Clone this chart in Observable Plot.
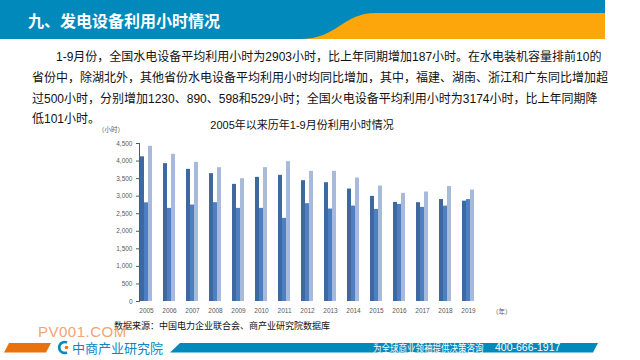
<!DOCTYPE html>
<html>
<head>
<meta charset="utf-8">
<script src="https://cdn.jsdelivr.net/npm/d3@7"></script>
<script src="https://cdn.jsdelivr.net/npm/@observablehq/plot@0.6"></script>
<style>
  html, body { margin: 0; padding: 0; background: #fff; }
  #slide { position: relative; width: 640px; height: 360px; overflow: hidden; background: #fff;
    font-family: "Liberation Sans", "Noto Sans CJK SC", sans-serif; }
  .abs { position: absolute; white-space: nowrap; }
  #para { position: absolute; left: 32px; top: 47px; width: 545px; font-size: 12px; color: #111;
    font-family: "Liberation Sans", "Noto Sans CJK SC", sans-serif; }
  #para div { height: 20.8px; line-height: 20.8px; text-align: justify; text-align-last: justify; white-space: nowrap; }
  #para div.last { text-align-last: left; }
  #chart { position: absolute; left: 0; top: 0; }
</style>
</head>
<body>
<div id="slide">
  <svg class="abs" style="left:0;top:0" width="640" height="360">
    <rect x="0" y="0" width="605" height="39" fill="#0289BC"></rect>
    <path d="M300,39 C338,39 342,13 376,13 L605,13 L605,39 Z" fill="#FDA60B"></path>
    <polygon points="9,343 51,343 46,352.5 4,352.5" fill="#E8720C"></polygon>
    <polygon points="180,343 598,343 593,352.5 170,352.5" fill="#0289BC"></polygon>
    <path d="M67,342.5 A5.5,5.5 0 1 0 67,352.5" fill="none" stroke="#0A87C0" stroke-width="2.6"></path>
    <circle cx="66.5" cy="347.5" r="1.8" fill="#E8720C"></circle>
  </svg>
  <div class="abs" style="left:28px;top:9px;font-size:16px;font-weight:bold;color:#fff;font-family:'Noto Sans CJK SC',sans-serif;line-height:22px">九、发电设备利用小时情况</div>
  <div id="para">
    <div style="padding-left:24px">1-9月份，全国水电设备平均利用小时为2903小时，比上年同期增加187小时。在水电装机容量排前10的</div>
    <div>省份中，除湖北外，其他省份水电设备平均利用小时均同比增加，其中，福建、湖南、浙江和广东同比增加超</div>
    <div>过500小时，分别增加1230、890、598和529小时；全国火电设备平均利用小时为3174小时，比上年同期降</div>
    <div class="last">低101小时。</div>
  </div>
  <div id="chart"></div>
  <div class="abs" style="left:0;width:604px;top:117px;text-align:center;font-size:11px;color:#111;line-height:16px">2005年以来历年1-9月份利用小时情况</div>
  <div class="abs" style="left:98px;top:125px;font-size:6.5px;color:#595959;line-height:10px">（小时）</div>
  <div class="abs" style="left:492px;top:307px;font-size:6.5px;color:#595959;line-height:10px">（年）</div>
  <div class="abs" style="left:114px;top:320px;font-size:9px;color:#111;line-height:12px">数据来源：中国电力企业联合会、商产业研究院数据库</div>
  <div class="abs" style="left:38px;top:325px;font-size:15px;color:#F3A472;line-height:14px;letter-spacing:0.5px">PV001.COM</div>
  <div class="abs" style="left:72px;top:340px;font-size:13px;color:#0A87C0;line-height:15px;font-family:'Noto Sans CJK SC',sans-serif">中商产业研究院</div>
  <div class="abs" style="left:373px;top:341px;font-size:10px;color:#fff;line-height:13px;transform:scaleX(0.85);transform-origin:left center;font-family:'Noto Sans CJK SC',sans-serif">为全球商业领袖提供决策咨询</div>
  <div class="abs" style="left:495px;top:341px;font-size:10.5px;color:#fff;line-height:13px">400-666-1917</div>
</div>
<script>
const years = ["2005","2006","2007","2008","2009","2010","2011","2012","2013","2014","2015","2016","2017","2018","2019"];
const seriesNames = ["全国", "水电", "火电"];
const allHours     = [4120, 3926, 3764, 3641, 3336, 3536, 3593, 3441, 3384, 3203, 2994, 2823, 2814, 2904, 2858];
const hydroHours   = [2810, 2652, 2747, 2814, 2652, 2652, 2367, 2785, 2633, 2718, 2623, 2766, 2680, 2716, 2903];
const thermalHours = [4420, 4192, 3964, 3812, 3498, 3812, 3983, 3707, 3707, 3517, 3289, 3080, 3118, 3275, 3174];
const yTicks = [0, 500, 1000, 1500, 2000, 2500, 3000, 3500, 4000, 4500];
const seriesColors = ["#3F689E", "#4E7FC0", "#A8BADB"];

const data = years.flatMap((y, i) => [
  {year: y, series: seriesNames[0], value: allHours[i]},
  {year: y, series: seriesNames[1], value: hydroHours[i]},
  {year: y, series: seriesNames[2], value: thermalHours[i]}
]);

const chart = Plot.plot({
  width: 640,
  height: 360,
  marginLeft: 129,
  marginRight: 155,
  marginTop: 143,
  marginBottom: 59,
  style: {background: "transparent", fontFamily: "'Liberation Sans', 'Noto Sans CJK SC', sans-serif", fontSize: "6.5px", color: "#595959", overflow: "visible"},
  facet: {data, x: "year"},
  fx: {domain: years, paddingInner: 0.37, paddingOuter: 0.12, label: null, tickSize: 0, tickPadding: 7, line: true},
  x: {domain: seriesNames, axis: null, padding: 0},
  y: {domain: [0, 4500], ticks: yTicks, tickFormat: d3.format(","), tickSize: 3, tickPadding: 4, label: null, line: true},
  color: {domain: seriesNames, range: seriesColors},
  marks: [
    Plot.barY(data, {x: "series", y: "value", fill: "series"})
  ]
});
d3.select(chart).selectAll("g[aria-label$='axis'] path, g[aria-label$='axis'] line").attr("stroke", "#BFBFBF");
document.getElementById("chart").appendChild(chart);
</script>
</body>
</html>
